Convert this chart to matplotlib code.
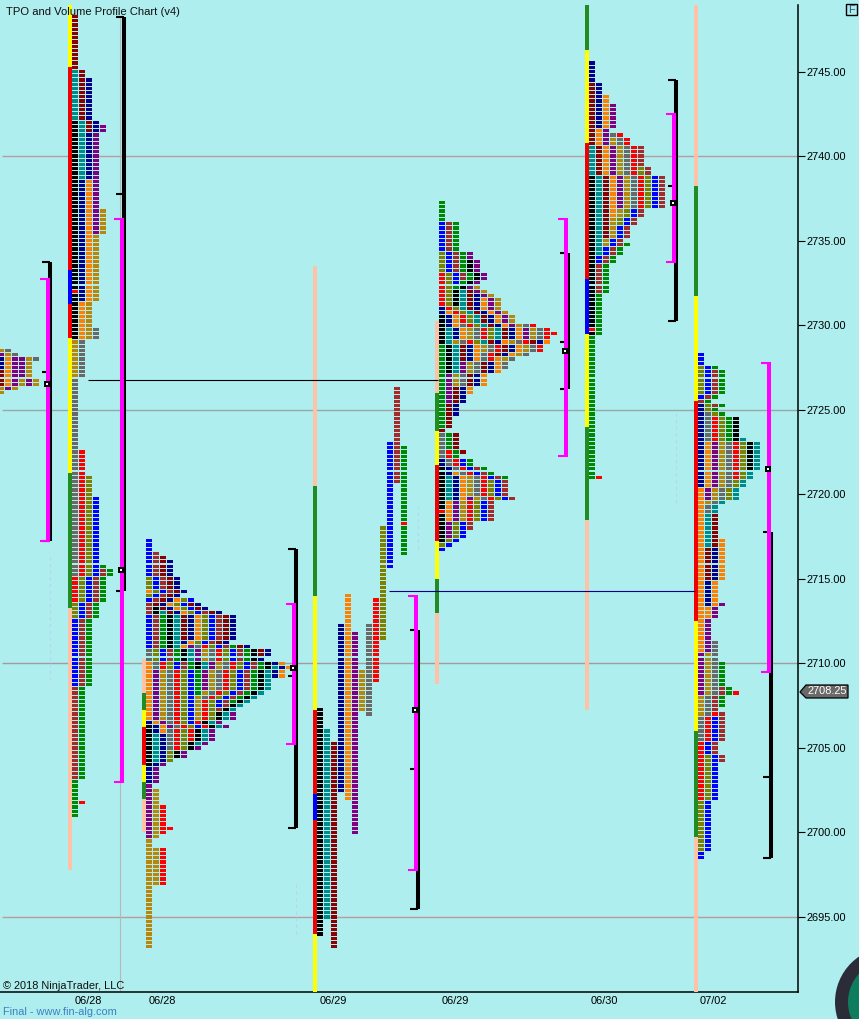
import numpy as np
import matplotlib
matplotlib.use("Agg")
import matplotlib.pyplot as plt
from matplotlib.patches import Circle, Polygon, Rectangle

plt.rcParams['font.family'] = ['Liberation Sans', 'DejaVu Sans']

BG = "#AFEEEE"
colors = {"k": "#000000", "T": "#008B8B", "n": "#00008B", "b": "#0000FF", "P": "#800080",
          "O": "#FF8000", "G": "#B8860B", "g": "#696969", "r": "#FF0000", "o": "#808000",
          "B": "#A52A2A", "D": "#8B0000", "E": "#008800"}
strip_colors = {"Y": "#FFFF00", "R": "#F00000", "L": "#0000FF", "F": "#228B22", "S": "#FFC2A6"}

# price axis
price_ticks = [2745, 2740, 2735, 2730, 2725, 2720, 2715, 2710, 2705, 2700, 2695]
date_labels = ["06/28", "06/28", "06/29", "06/29", "06/30", "07/02"]
date_slots = [88, 162, 333, 455, 604, 713]
last_price = 2708.25

# periods of each session, in time order : (colour, high, low)
session0 = [("P", 2728.25, 2728.25), ("G", 2728.5, 2728.25), ("g", 2728.5, 2728.25), ("n", 2728, 2727.5),
            ("D", 2727.25, 2726.5), ("G", 2726.25, 2726), ("O", 2728, 2726.5), ("P", 2728, 2726.25),
            ("P", 2728, 2727), ("G", 2728, 2727), ("g", 2728, 2728), ("G", 2726.75, 2726.25),
            ("P", 2726.75, 2726.5), ("G", 2726.75, 2726.5)]

session1 = [("k", 2742, 2729.25), ("T", 2745, 2738.75), ("D", 2748.25, 2741.5), ("n", 2744.5, 2731.5),
            ("O", 2738.5, 2729.25), ("P", 2741.75, 2735.5), ("G", 2736.75, 2727), ("g", 2729.75, 2715.25),
            ("r", 2722.5, 2713.75), ("o", 2721, 2712.75), ("b", 2719.75, 2708.75), ("B", 2715.5, 2703.25),
            ("E", 2715.75, 2701)]

session2 = [("k", 2706.25, 2704), ("T", 2705.75, 2704.25), ("n", 2706.5, 2703), ("O", 2710, 2706),
            ("P", 2709.5, 2706.25), ("P", 2704, 2699.75), ("G", 2709.5, 2706.75), ("G", 2702.5, 2693.25),
            ("G", 2699, 2697), ("g", 2710.75, 2705), ("r", 2710, 2705), ("r", 2701.5, 2700), ("r", 2699, 2697),
            ("O", 2714.25, 2714.25), ("o", 2715, 2714), ("o", 2710.75, 2704.25), ("b", 2717.25, 2713.75),
            ("b", 2712.75, 2706.25), ("B", 2716.5, 2709.75), ("E", 2712.75, 2708.25), ("k", 2713.25, 2709.75),
            ("T", 2713, 2709.75), ("D", 2716.25, 2711.5), ("n", 2716, 2711.25), ("O", 2713.75, 2711),
            ("P", 2711, 2708.5), ("G", 2710.75, 2706.75), ("g", 2711, 2708), ("r", 2711, 2705.5),
            ("o", 2713.75, 2706.75), ("b", 2713.75, 2707.5), ("B", 2713, 2707.25), ("E", 2711, 2707.75),
            ("k", 2710.75, 2704.5), ("T", 2709.75, 2705.25), ("D", 2713.5, 2710.5), ("n", 2713.5, 2709.25),
            ("O", 2710, 2709.25), ("P", 2707, 2704.5)]

# this one is not stacked, every period keeps its own column
session3 = [("k", 2707.25, 2694), ("T", 2706, 2695), ("D", 2705.25, 2693.25), ("n", 2712.25, 2702.5),
            ("O", 2714, 2702), ("P", 2711.75, 2700), ("G", 2709.5, 2707.25), ("g", 2712.25, 2707),
            ("r", 2713.75, 2709), ("o", 2718, 2711.5), ("b", 2723, 2715.75), ("B", 2726.25, 2720.75),
            ("E", 2722.75, 2716.5)]

session4 = [("k", 2730.5, 2729), ("T", 2729.75, 2729), ("n", 2731, 2729.25), ("O", 2730.75, 2729.25),
            ("G", 2729.75, 2729), ("g", 2730, 2729), ("r", 2733, 2729), ("o", 2734.25, 2729),
            ("b", 2736, 2732.5), ("B", 2736, 2732.75), ("E", 2737.25, 2732.25), ("E", 2728.75, 2724),
            ("k", 2733.75, 2731.25), ("k", 2728.75, 2727.25), ("T", 2732, 2727.25), ("P", 2727.75, 2725.5),
            ("G", 2727.75, 2726.5), ("g", 2727.75, 2726.5), ("D", 2732, 2723.75), ("n", 2731.75, 2724.75),
            ("O", 2731.5, 2726), ("P", 2734.25, 2729.25), ("G", 2732.25, 2728.5), ("g", 2730, 2728),
            ("r", 2730, 2728), ("D", 2729, 2728.25), ("n", 2729, 2728.25), ("O", 2729, 2728),
            ("G", 2728.75, 2728), ("g", 2728.75, 2727.5), ("r", 2729.5, 2729.5), ("r", 2728.75, 2728.5),
            # lower lobe
            ("k", 2721.5, 2717.25), ("T", 2721, 2719.75), ("n", 2722, 2719.75), ("O", 2721.25, 2718.5),
            ("P", 2719.75, 2717.5), ("G", 2721, 2718.5), ("g", 2723.5, 2719.75), ("r", 2722.5, 2718.5),
            ("o", 2720.75, 2717), ("b", 2722, 2716.75), ("B", 2721.5, 2718), ("E", 2723.5, 2721),
            ("D", 2723.5, 2722.5)]

session5 = [("k", 2738.75, 2729.5), ("T", 2740.5, 2734.25), ("D", 2744.25, 2735.25), ("n", 2745.5, 2741.75),
            ("O", 2743.5, 2736.5), ("P", 2743, 2737), ("G", 2741, 2734.75), ("g", 2741.25, 2737),
            ("r", 2741.25, 2737), ("o", 2739.25, 2736), ("b", 2738.75, 2733.75), ("B", 2740.5, 2732),
            ("E", 2734.75, 2721)]

session6 = [("n", 2725.25, 2720.5), ("O", 2723, 2712.75), ("P", 2723, 2719.75), ("G", 2723, 2719.5),
            ("g", 2724.75, 2719), ("r", 2724.5, 2721), ("o", 2727.5, 2726), ("o", 2725.25, 2719.75),
            ("b", 2728.25, 2725.75), ("B", 2727.25, 2725.25), ("E", 2727.5, 2723.25), ("k", 2724.5, 2721.5),
            ("T", 2723.25, 2717), ("D", 2718.75, 2715), ("n", 2716.75, 2713.5), ("O", 2717.25, 2710.75),
            ("P", 2713.5, 2708.25), ("G", 2710.5, 2707), ("g", 2711.25, 2705.5), ("r", 2707, 2702),
            ("o", 2704.5, 2699), ("b", 2706.75, 2698.5), ("B", 2708.5, 2704.25), ("E", 2710, 2707.5)]

# single prints that do not follow the stacking : (price, column, colour)
extras1 = [(2732, 0, "r"), (2701.75, 1, "r")]
extras2 = [(2700.25, 3, "r")]
extras3 = [(2718.25, 12, "r")]
extras4 = [(2719, 0, "r")]
extras5 = [(2729.75, 0, "r"), (2721, 1, "r")]
extras6 = [(2708.25, 5, "r")]

# thick coloured strips left of each session : edges from top to bottom, one colour per piece
strip1_edges = [2749, 2745.25, 2733.25, 2731.25, 2729.25, 2721.25, 2713.25, 2697.75]
strip1_cols = "YRLRYFS"
strip2_edges = [2710.25, 2708.25, 2707.25, 2706.25, 2704, 2703, 2702, 2700]
strip2_cols = "SFYRYFS"
strip3_edges = [2733.5, 2720.5, 2714, 2707.25, 2702.25, 2700.75, 2694, 2690.5]
strip3_cols = "SFYRLRY"
strip4_edges = [2730.25, 2726, 2723.75, 2721.75, 2717.25, 2715, 2713, 2708.75]
strip4_cols = "SFYRYFS"
strip5_edges = [2749, 2746.25, 2740.75, 2732.75, 2729.5, 2724, 2718.5, 2707.25]
strip5_cols = "FYRLYFS"
strip6_edges = [2749, 2738.25, 2731.75, 2725.5, 2712.5, 2706, 2699.75, 2690.5]
strip6_cols = "SFYRYFS"

# brackets : high, low, middle
black_high = [2733.75, 2748.25, 2716.75, 2712, 2734.25, 2744.5, 2717.75]
black_low = [2717.25, 2714.25, 2700.25, 2695.5, 2726.25, 2730.25, 2698.5]
black_mid = [2727.25, 2737.75, 2709.25, 2703.75, 2729, 2738.25, 2703.25]
magenta_high = [2732.75, 2736.25, 2713.5, 2714, 2736.25, 2742.5, 2727.75]
magenta_low = [2717.25, 2703, 2705.25, 2697.75, 2722.25, 2733.75, 2709.5]
poc_price = [2726.5, 2715.5, 2709.75, 2707.25, 2728.5, 2737.25, 2721.5]

# horizontal rays (price, from slot, to slot, colour)
ray_prices = [2726.75, 2714.25]
ray_from = [88, 389]
ray_to = [438, 695]
ray_cols = ["black", "#00008B"]

# reference lines
ref_prices = [2740, 2725, 2710, 2695]
ref_cols = ["#B89AA0", "#98A8A8", "#A09CA0", "#B89AA0"]

# faint volume dashes
faint_slots = [50, 296, 418, 676]
faint_high = [2716.5, 2697, 2719.25, 2725]
faint_low = [2709, 2694, 2716.75, 2719.5]

# layout of the chart in pixels
W, H = 859, 1019
PLOT_R, PLOT_T, PLOT_B = 798, 5, 992
PX_PER_POINT = 16.91
Y_2745 = 71.5
BRICK_W = 6
STEP = 7
BRICK_H = 3.2 / PX_PER_POINT  # keeps a one pixel gap between the rows

fig = plt.figure(figsize=(W / 100, H / 100), dpi=100, facecolor=BG)
ax = fig.add_axes([0, 1 - PLOT_B / H, PLOT_R / W, (PLOT_B - PLOT_T) / H], facecolor=BG)
ax.set_xlim(0, PLOT_R)
ax.set_ylim(2745 - (PLOT_B - Y_2745) / PX_PER_POINT, 2745 + (Y_2745 - PLOT_T) / PX_PER_POINT)


def draw_session(periods, x0, extras=(), stacked=True):
    xs, ys, cs = [], [], []
    count = {}
    for i, (c, hi, lo) in enumerate(periods):
        for p in np.arange(lo, hi + 0.01, 0.25):
            p = float(p)
            if stacked:
                col = count.get(p, 0)
                count[p] = col + 1
            else:
                col = i
            xs.append(x0 + col * STEP)
            ys.append(p - BRICK_H / 2)
            cs.append(colors[c])
    for p, col, c in extras:
        xs.append(x0 + col * STEP)
        ys.append(p - BRICK_H / 2)
        cs.append(colors[c])
    ax.bar(xs, [BRICK_H] * len(xs), width=BRICK_W, bottom=ys, color=cs, align="edge",
           linewidth=0, antialiased=False, zorder=3)


def draw_strip(edges, cols, x0):
    edges = np.array(edges)
    ax.bar([x0] * len(cols), edges[:-1] - edges[1:], width=4, bottom=edges[1:],
           color=[strip_colors[c] for c in cols], align="edge", linewidth=0, antialiased=False, zorder=3)


# reference lines and thin vertical line behind everything
ax.hlines(ref_prices, 2, PLOT_R, colors=ref_cols, lw=1, zorder=1)
ax.vlines(120, ax.get_ylim()[0], 2748.25, colors="#B4B8B8", lw=0.8, zorder=1)
ax.vlines(faint_slots, faint_low, faint_high, colors="#B8D4F4", lw=0.8, linestyles=(0, (3, 3)), zorder=1)

draw_session(session0, -2)
draw_session(session1, 72, extras1)
draw_session(session2, 146, extras2)
draw_session(session3, 317, extras3, stacked=False)
draw_session(session4, 439, extras4)
draw_session(session5, 589, extras5)
draw_session(session6, 698, extras6)

draw_strip(strip1_edges, strip1_cols, 68)
draw_strip(strip2_edges, strip2_cols, 142)
draw_strip(strip3_edges, strip3_cols, 313)
draw_strip(strip4_edges, strip4_cols, 435)
draw_strip(strip5_edges, strip5_cols, 585)
draw_strip(strip6_edges, strip6_cols, 694)

# rays
for p, a, b, c in zip(ray_prices, ray_from, ray_to, ray_cols):
    ax.hlines(p, a, b, colors=c, lw=0.8, zorder=4)

# brackets, slots of the vertical bars
black_slots = [50, 124, 296, 418, 568, 676, 771]
magenta_slots = [48, 122, 294, 416, 566, 674, 769]
for i in range(7):
    bx = black_slots[i]
    mx = magenta_slots[i]
    ax.vlines(bx, black_low[i], black_high[i], colors="black", lw=2.9, zorder=5)
    ax.hlines([black_high[i], black_low[i], black_mid[i]], bx - 8, bx, colors="black", lw=1.5, zorder=5)
    ax.vlines(mx, magenta_low[i], magenta_high[i], colors="#FF00FF", lw=2.9, zorder=6)
    ax.hlines([magenta_high[i], magenta_low[i]], mx - 8, mx + 2, colors="#FF00FF", lw=1.5, zorder=6)
    ax.plot([mx - 1], [poc_price[i]], "s", ms=4.6, mew=0, color="black", zorder=7)
    ax.plot([mx - 1], [poc_price[i]], "s", ms=1.5, mew=0, color="white", zorder=8)

# axes
for s in ("top", "left"):
    ax.spines[s].set_visible(False)
ax.spines["right"].set_linewidth(1.1)
ax.spines["bottom"].set_linewidth(1.1)
ax.yaxis.tick_right()
ax.set_yticks(price_ticks)
ax.set_yticklabels(["%.2f" % p for p in price_ticks])
ax.tick_params(axis="y", length=5, width=0.8, pad=1, labelsize=7.9)
ax.set_xticks(date_slots)
ax.set_xticklabels(date_labels)
ax.tick_params(axis="x", length=0, pad=3, labelsize=7.9)

# everything outside the scales, in pixels
over = fig.add_axes([0, 0, 1, 1], zorder=10)
over.set_xlim(0, W)
over.set_ylim(H, 0)
over.axis("off")
over.patch.set_alpha(0)

over.text(6, 12, "TPO and Volume Profile Chart (v4)", fontsize=8.1, va="center", ha="left", color="#101010")
over.text(3, 986, "© 2018 NinjaTrader, LLC", fontsize=7.9, va="center", ha="left", color="#101010")
over.text(3, 1012, "Final - www.fin-alg.com", fontsize=7.9, va="center", ha="left", color="#3C80C0")

over.add_patch(Rectangle((846, 4), 11, 11, fc="none", ec="black", lw=1.0))
over.text(851.5, 9.5, "F", fontsize=7.9, va="center", ha="center", color="#305070")

over.add_patch(Polygon([(800, 692), (806, 685), (848, 685), (848, 698), (806, 698)], closed=True,
                       fc="#696969", ec="black", lw=0.9))
over.text(807, 691.5, "%.2f" % last_price, fontsize=7.9, va="center", ha="left", color="white")

over.add_patch(Circle((890, 1002), 55, fc="#2C2C38", ec="none"))
over.add_patch(Circle((890, 1002), 42, fc="#0E7D5E", ec="none"))

fig.savefig("out.png", dpi=100, facecolor=BG)
